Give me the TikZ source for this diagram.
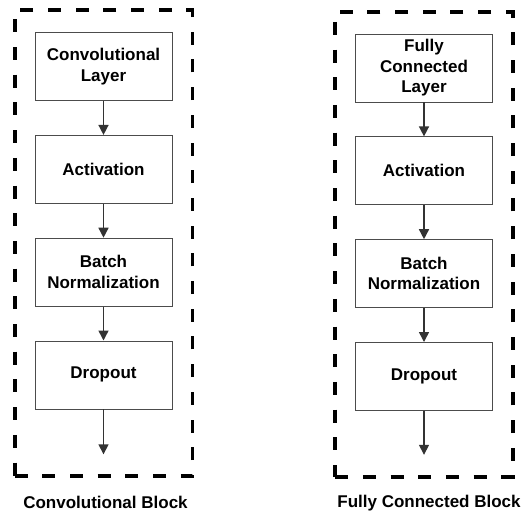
\documentclass[tikz,border=0pt]{standalone}
\usepackage{fontspec}
\setmainfont{Liberation Sans}
\usetikzlibrary{positioning,fit,arrows.meta}

\begin{document}
\begin{tikzpicture}[x=1pt,y=-1pt,node distance=34pt,
    layer/.style={draw=black!70,line width=0.8pt,minimum width=137pt,minimum height=68pt,
      inner sep=2pt,align=center,font=\bfseries\fontsize{17}{20.5}\selectfont},
    flow/.style={draw=black!80,line width=1.5pt,-{Triangle[length=10pt,width=10pt]}},
    frame/.style={draw,line width=3.8pt,dash pattern=on 13pt off 14.7pt,
      inner xsep=20pt,inner ysep=22pt},
    caption/.style={font=\bfseries\fontsize{17}{20}\selectfont}]
    \useasboundingbox (0,0) rectangle (521,512);

    % convolutional block
    \node[layer] (convL) at (103.5,66.5) {Convolutional\\Layer};
    \node[layer,below=of convL] (actL) {Activation};
    \node[layer,below=of actL] (normL) {Batch\\Normalization};
    \node[layer,below=of normL] (dropL) {Dropout};
    \coordinate[below=45pt of dropL.south] (outL);
    \draw[flow] (convL) -- (actL);
    \draw[flow] (actL) -- (normL);
    \draw[flow] (normL) -- (dropL);
    \draw[flow] (dropL) -- (outL);
    \node[frame,fit=(convL)(outL)] (blockL) {};
    \node[caption] (capL) at ([xshift=2pt,yshift=-24pt]blockL.south) {Convolutional Block};

    % fully connected block
    \node[layer] (fcR) at (424,68) {Fully\\Connected\\Layer};
    \node[layer,below=of fcR] (actR) {Activation};
    \node[layer,below=of actR] (normR) {Batch\\Normalization};
    \node[layer,below=of normR] (dropR) {Dropout};
    \coordinate[below=44pt of dropR.south] (outR);
    \draw[flow] (fcR) -- (actR);
    \draw[flow] (actR) -- (normR);
    \draw[flow] (normR) -- (dropR);
    \draw[flow] (dropR) -- (outR);
    \node[frame,fit=(fcR)(outR)] (blockR) {};
    \node[caption] (capR) at ([xshift=5pt,yshift=-24pt]blockR.south) {Fully Connected Block};
\end{tikzpicture}
\end{document}
